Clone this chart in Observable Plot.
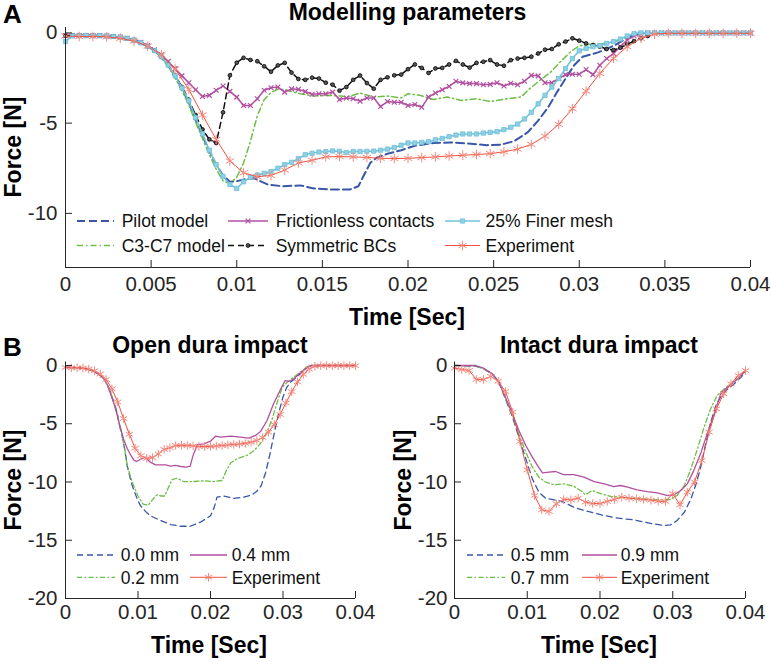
<!DOCTYPE html>
<html><head><meta charset="utf-8">
<script src="https://cdn.jsdelivr.net/npm/d3@7"></script>
<script src="https://cdn.jsdelivr.net/npm/@observablehq/plot@0.6"></script>
<style>
body{margin:0;background:#fff;}
#wrap{position:relative;width:771px;height:664px;overflow:hidden;background:#fff;}
</style></head><body><div id="wrap"></div>
<script>
// ---------- DATA (time in ms, force in N) ----------
// Panel A, Experiment: sampled every 0.8 ms (also used in "Open dura impact")
const expOpenF = [-0.17,-0.2,-0.2,-0.22,-0.3,-0.45,-0.73,-1.2,-2.0,-3.13,
  -4.55,-5.9,-7.1,-7.75,-7.97,-7.9,-7.6,-7.2,-7.06,-6.87,
  -6.85,-6.87,-6.9,-6.95,-6.96,-6.95,-6.91,-6.87,-6.82,-6.78,
  -6.74,-6.69,-6.59,-6.44,-6.18,-5.72,-5.07,-4.2,-3.22,-2.25,
  -1.41,-0.76,-0.3,-0.07,-0.02,-0.02,-0.02,-0.02,-0.02,-0.02,-0.02];
// Panel A, 25% Finer mesh: every 0.4 ms
const finerF = [-0.48,-0.17,-0.15,-0.15,-0.15,-0.15,-0.17,-0.2,-0.23,-0.3,
  -0.4,-0.55,-0.75,-0.98,-1.32,-1.78,-2.38,-3.05,-3.75,-4.7,
  -5.6,-6.5,-7.3,-7.95,-8.4,-8.62,-8.25,-8.0,-7.88,-7.78,
  -7.68,-7.5,-7.3,-7.17,-6.97,-6.75,-6.67,-6.6,-6.58,-6.54,
  -6.56,-6.63,-6.57,-6.57,-6.56,-6.55,-6.5,-6.44,-6.35,-6.22,
  -6.1,-6.1,-6.07,-6.03,-5.92,-5.85,-5.75,-5.66,-5.6,-5.6,
  -5.6,-5.55,-5.51,-5.47,-5.36,-5.23,-5.05,-4.77,-4.4,-3.93,
  -3.46,-3.0,-2.53,-1.97,-1.42,-0.99,-0.86,-0.76,-0.71,-0.58,
  -0.48,-0.34,-0.17,-0.04,0,0,0,0,0,0,
  0,0,0,0,0,0,0,0,0,0,0];
// Panel A, Frictionless contacts: every 0.4 ms
const fricF = [-0.15,-0.15,-0.15,-0.15,-0.15,-0.15,-0.17,-0.2,-0.23,-0.3,
  -0.4,-0.52,-0.7,-0.93,-1.22,-1.58,-1.98,-2.38,-2.76,-3.15,
  -3.52,-3.46,-3.18,-2.94,-3.24,-3.56,-4.02,-4.02,-3.65,-3.18,
  -3.04,-3.0,-3.28,-3.1,-3.13,-3.25,-3.4,-3.37,-3.37,-3.28,
  -3.69,-3.61,-3.65,-3.78,-3.61,-3.61,-4.08,-3.8,-3.84,-3.84,
  -4.02,-3.97,-4.12,-3.56,-3.33,-3.15,-2.96,-2.68,-2.77,-2.81,
  -2.81,-2.87,-2.85,-2.76,-2.94,-2.79,-2.87,-2.68,-2.35,-2.38,
  -2.76,-2.76,-2.53,-2.31,-2.29,-2.29,-2.03,-2.31,-1.79,-1.42,
  -1.14,-0.76,-0.39,-0.17,-0.06,0,0,0,0,0,
  0,0,0,0,0,0,0,0,0,0,0];
// Panel A, Symmetric BCs: every 0.4 ms, 0 – 34 ms
const symF = [-0.15,-0.15,-0.15,-0.15,-0.15,-0.15,-0.17,-0.2,-0.23,-0.3,
  -0.4,-0.55,-0.75,-0.98,-1.32,-1.78,-2.35,-3.0,-3.7,-4.55,
  -5.35,-5.9,-6.1,-4.4,-2.35,-1.65,-1.38,-1.5,-1.57,-1.85,
  -2.15,-1.8,-1.66,-2.2,-2.55,-2.6,-2.48,-2.53,-2.76,-2.87,
  -3.2,-3.0,-2.6,-2.36,-2.78,-3.09,-2.6,-2.46,-2.35,-2.31,
  -2.01,-1.75,-1.94,-2.22,-1.97,-1.94,-1.75,-1.55,-1.75,-1.92,
  -1.66,-1.6,-1.51,-1.75,-1.82,-1.51,-1.42,-1.38,-1.32,-1.14,
  -0.93,-0.89,-0.63,-0.48,-0.3,-0.43,-0.58,-0.67,-0.76,-0.89,
  -0.95,-0.82,-0.63,-0.45,-0.3,-0.17];
// Panel A, Pilot model [ms, N]
const pilot = [[0,-0.15],[2,-0.15],[2.8,-0.2],[3.6,-0.3],[4.4,-0.55],[5.2,-0.98],[5.6,-1.32],[6,-1.8],[6.4,-2.4],[6.8,-3.1],[7.2,-3.85],[7.6,-4.8],[8,-5.7],[8.4,-6.55],[8.8,-7.3],[9.2,-7.9],[9.6,-8.25],[10,-8.22],[10.5,-8.1],[11,-8.05],[11.8,-8.4],[12.7,-8.5],[13.7,-8.45],[14.5,-8.62],[15.6,-8.68],[16.6,-8.68],[17.1,-8.5],[17.4,-7.93],[17.8,-7.2],[18.2,-6.9],[18.8,-6.7],[19.6,-6.5],[20.4,-6.25],[21.5,-6.1],[22.5,-6.07],[23.5,-6.13],[24.6,-6.22],[25.4,-6.2],[26.2,-6.0],[27,-5.5],[27.6,-4.86],[28.2,-4.1],[28.7,-3.28],[29.2,-2.53],[29.7,-1.79],[30.2,-1.32],[30.7,-1.19],[31.1,-1.08],[31.6,-0.89],[32.1,-0.67],[32.6,-0.39],[33.2,-0.11],[33.6,0],[40,0]];
// Panel A, C3-C7 model [ms, N]
const c3c7 = [[0,-0.15],[2,-0.15],[2.8,-0.2],[3.6,-0.3],[4.4,-0.55],[5.2,-1.0],[5.6,-1.38],[6,-1.88],[6.4,-2.5],[6.8,-3.2],[7.2,-4.0],[7.6,-4.95],[8,-5.85],[8.4,-6.75],[8.8,-7.55],[9.2,-8.2],[9.6,-8.35],[10,-8.0],[10.4,-7.2],[10.8,-6.0],[11.2,-4.6],[11.6,-3.7],[12,-3.3],[12.4,-3.12],[12.8,-3.15],[13.2,-3.25],[13.7,-3.37],[14.5,-3.5],[15.3,-3.46],[16.1,-3.5],[16.45,-3.55],[17.2,-3.33],[18,-3.55],[18.8,-3.5],[19.6,-3.6],[20,-3.37],[20.7,-3.46],[21.5,-3.69],[22.3,-3.55],[23.1,-3.74],[24,-3.65],[24.8,-3.8],[25.8,-3.65],[26.6,-3.55],[27.1,-3.1],[27.7,-2.63],[28.3,-2.2],[28.9,-1.6],[29.5,-1.04],[30,-0.71],[30.7,-0.63],[31.4,-0.58],[32.2,-0.45],[32.8,-0.2],[33.4,-0.02],[40,0]];
// Panel B left, Open dura impact [ms, N]
const open00 = [[0,-0.15],[2,-0.2],[3,-0.3],[3.9,-0.5],[4.6,-0.75],[5.3,-1.14],[5.8,-1.7],[6.2,-2.3],[6.7,-3.2],[7.1,-4.0],[7.4,-5.0],[7.8,-6.0],[8.2,-7.3],[8.5,-8.6],[8.9,-9.6],[9.2,-10.3],[9.8,-11.3],[10.3,-12.0],[11,-12.5],[11.7,-12.9],[13.1,-13.3],[14.5,-13.65],[15.9,-13.8],[17.2,-13.8],[18.6,-13.45],[20,-12.9],[20.5,-12.2],[20.9,-11.3],[21.8,-11.2],[23.2,-11.4],[24.6,-11.3],[25.7,-11.1],[26.4,-10.8],[27,-10.3],[27.6,-9.2],[28.2,-7.6],[28.8,-5.8],[29.4,-4.1],[30,-2.7],[30.5,-1.9],[31,-1.45],[31.5,-1.2],[32.4,-0.7],[33.3,-0.15],[34,0],[40,0]];
const open02 = [[0,-0.15],[2,-0.2],[3,-0.3],[3.9,-0.5],[4.6,-0.75],[5.3,-1.14],[5.8,-1.7],[6.2,-2.3],[6.7,-3.2],[7.1,-4.0],[7.4,-5.0],[7.8,-6.0],[8.2,-7.3],[8.5,-8.5],[8.9,-9.4],[9.2,-10.0],[10,-11.2],[10.7,-11.9],[11.4,-12.0],[12.1,-11.45],[12.6,-11.1],[13.1,-11.2],[13.7,-11.2],[14.1,-10.6],[14.7,-9.8],[15.4,-9.67],[16.3,-9.96],[17.7,-9.96],[19.1,-9.9],[20.5,-9.96],[21.6,-9.87],[22.2,-9.0],[22.8,-8.35],[23.7,-8.0],[25.1,-7.7],[26,-7.3],[26.9,-6.7],[27.8,-5.7],[28.5,-4.6],[29.2,-3.15],[29.9,-1.86],[30.6,-1.43],[31.5,-1.0],[32.4,-0.57],[33.3,-0.1],[33.8,0],[40,0]];
const open04 = [[0,-0.15],[2,-0.2],[3,-0.3],[3.9,-0.5],[4.6,-0.75],[5.3,-1.14],[5.8,-1.7],[6.2,-2.4],[6.7,-3.3],[7.1,-4.2],[7.6,-5.4],[8,-6.3],[8.5,-7.1],[9,-7.7],[9.4,-8.1],[9.8,-8.24],[10.3,-8.07],[11,-7.87],[11.7,-8.3],[12.4,-8.53],[13.1,-8.53],[13.8,-8.53],[14.5,-8.64],[15.2,-8.58],[15.9,-8.67],[16.7,-8.73],[17.2,-8.64],[17.6,-7.7],[18.2,-6.8],[19.1,-6.72],[20,-6.5],[20.7,-6.07],[21.4,-6.15],[22.8,-6.07],[24.1,-6.15],[25.3,-6.24],[26.2,-6.0],[26.9,-5.67],[27.8,-4.72],[28.7,-3.29],[29.7,-2.0],[30.3,-1.29],[30.8,-1.37],[31.5,-1.14],[32.4,-0.63],[33.6,-0.06],[34.3,0],[40,0]];
// Panel B right, Intact dura impact [ms, N]
const int05 = [[0,0],[2.9,-0.06],[4,-0.29],[5.2,-0.72],[6.1,-1.43],[7,-2.86],[7.9,-4.3],[8.85,-6.15],[9.8,-8.0],[10.7,-9.73],[11.6,-10.87],[12.5,-11.39],[13.7,-11.53],[15,-11.73],[16.4,-12.16],[17.8,-12.45],[19.2,-12.65],[20.6,-12.88],[21.9,-13.05],[23.3,-13.16],[24.7,-13.25],[26.1,-13.45],[27.4,-13.6],[28.8,-13.73],[29.7,-13.68],[30.6,-13.3],[31.6,-12.6],[32.5,-11.45],[33.2,-10.2],[33.9,-8.6],[34.5,-6.8],[35.2,-4.9],[36,-3.3],[36.8,-2.5],[37.5,-2.05],[38.4,-1.6],[39.4,-1.0],[40,-0.55]];
const int07 = [[0,0],[2.9,-0.05],[4,-0.25],[5.2,-0.72],[6.1,-1.43],[7,-2.8],[7.9,-4.15],[8.85,-5.87],[9.8,-7.44],[10.7,-8.73],[11.6,-9.59],[12.5,-10.0],[13.7,-10.24],[15,-10.16],[16.4,-10.36],[17.6,-10.87],[18,-11.1],[18.9,-10.73],[20.1,-11.0],[21.5,-11.24],[22.8,-11.3],[24.2,-11.39],[25.6,-11.44],[27,-11.5],[28.3,-11.53],[29.7,-11.5],[30.6,-11.16],[31.6,-10.3],[32.5,-8.87],[33.4,-7.15],[34.3,-5.3],[35.2,-3.72],[36.1,-2.58],[37.1,-2.0],[38,-1.57],[39.1,-1.0],[40,-0.52]];
const int09 = [[0,0],[2.9,0],[4,-0.23],[5.2,-0.72],[6.1,-1.43],[7,-2.72],[7.9,-4.06],[8.85,-5.58],[9.8,-6.87],[10.7,-7.87],[11.4,-8.58],[12.1,-9.21],[13,-9.16],[13.9,-9.1],[15,-9.36],[16.4,-9.36],[17.8,-9.59],[19.2,-9.96],[20.6,-10.16],[21.9,-10.39],[22.8,-10.3],[23.8,-10.44],[25.1,-10.67],[26.5,-10.82],[27.9,-10.93],[29.3,-11.16],[30.2,-11.1],[31.1,-10.73],[32,-10.16],[32.9,-9.0],[33.9,-7.44],[34.8,-5.72],[35.7,-4.15],[36.6,-2.43],[37.5,-1.86],[38.4,-1.43],[39.4,-0.86],[40,-0.43]];
// Panel B right, Experiment: every 1 ms
const expIntactF = [-0.23,-0.34,-0.43,-1.2,-1.2,-0.94,-1.34,-2.23,-4.0,-6.52,
  -8.96,-11.16,-12.39,-12.53,-11.87,-11.5,-11.53,-11.39,-11.73,-11.85,
  -11.85,-11.67,-11.5,-11.3,-11.39,-11.44,-11.5,-11.56,-11.65,-11.67,
  -11.0,-11.96,-10.87,-10.0,-8.15,-5.72,-3.72,-2.43,-1.57,-0.86,-0.43];

const xticksA = [0,0.005,0.01,0.015,0.02,0.025,0.03,0.035,0.04];
const yticksA = [-10,-5,0];
const xticksB = [0,0.01,0.02,0.03,0.04];
const yticksB = [-20,-15,-10,-5,0];

// ---------- helpers ----------
const seq = (vals, stepMs) => vals.map((F, i) => ({t: i * stepMs / 1000, F}));
const pairs = arr => arr.map(([t, F]) => ({t: t / 1000, F}));
const FONT = '"Liberation Sans", Arial, Helvetica, sans-serif';
const AX = "#262626";
const C = {blue:"#3a56a8", green:"#6dbe45", mag:"#b24fa0", black:"#111", cyan:"#72c3dc", red:"#f0503e", redM:"#f4887d"};
const fmtX = d => d === 0 ? "0" : String(+d.toFixed(3));
const fmtY = d => String(d);

function series(data, s) {
  const m = [Plot.line(data, {x: "t", y: "F", stroke: s.color, strokeWidth: s.w, strokeDasharray: s.dash || null})];
  if (s.sym) m.push(Plot.dot(data, {x: "t", y: "F", symbol: s.sym, r: s.r, stroke: s.ms, fill: s.mf || "none", strokeWidth: s.mw || 1}));
  return m;
}

const ST = {
  pilot: {color: C.blue, w: 2, dash: "8,4"},
  c3: {color: C.green, w: 1.5, dash: "6,3,1.5,3"},
  fric: {color: C.mag, w: 1.5, sym: "times", r: 2.3, ms: C.mag, mw: 1.2},
  sym: {color: C.black, w: 1.5, dash: "6,4", sym: "circle", r: 1.9, ms: "#000", mf: "#555", mw: 0.8},
  fine: {color: C.cyan, w: 1.6, sym: "square", r: 2.4, ms: "#6cbfd8", mf: "#8fd0e5", mw: 0.8},
  exp: {color: C.red, w: 1, sym: "asterisk", r: 4.5, ms: C.redM, mw: 1},
  b0: {color: C.blue, w: 1.3, dash: "6,4"},
  b1: {color: C.green, w: 1.3, dash: "5,2.5,1.5,2.5"},
  b2: {color: C.mag, w: 1.3},
  bexp: {color: C.red, w: 1, sym: "asterisk", r: 4, ms: C.redM, mw: 1}
};

function panel(cfg) {
  const {width, height, ml, mr, mt, mb, ydom, xticks, yticks, xdy, ydx, marks} = cfg;
  const fw = width - ml - mr, fh = height - mt - mb;
  const svg = Plot.plot({
    width, height, marginLeft: ml, marginRight: mr, marginTop: mt, marginBottom: mb,
    x: {domain: [0, 0.04], axis: null},
    y: {domain: ydom, axis: null},
    style: {background: "transparent", overflow: "visible", fontFamily: FONT, fontSize: "20px", color: AX},
    marks: [
      ...marks,
      Plot.ruleX([0], {stroke: AX, strokeWidth: 1}),
      Plot.ruleY([ydom[0]], {stroke: AX, strokeWidth: 1}),
      Plot.tickX(xticks, {x: d => d, insetTop: fh - 7, stroke: AX}),
      Plot.tickY(yticks, {y: d => d, insetRight: fw - 7, stroke: AX}),
      Plot.text(xticks, {x: d => d, frameAnchor: "bottom", dy: xdy, text: fmtX, fontSize: 20.5, fill: AX}),
      Plot.text(yticks, {y: d => d, frameAnchor: "left", dx: ydx, textAnchor: "end", text: fmtY, fontSize: 20.5, fill: AX})
    ]
  });
  svg.style.position = "absolute";
  svg.style.left = cfg.left + "px";
  svg.style.top = cfg.top + "px";
  return svg;
}

const wrap = document.getElementById("wrap");

wrap.appendChild(panel({
  left: 0, top: 0, width: 771, height: 330, ml: 65, mr: 21, mt: 27, mb: 63,
  ydom: [-13, 0.3], xticks: xticksA, yticks: yticksA, xdy: 23.6, ydx: -8,
  marks: [
    ...series(pairs(pilot), ST.pilot),
    ...series(pairs(c3c7), ST.c3),
    ...series(seq(fricF, 0.4), ST.fric),
    ...series(seq(symF, 0.4), ST.sym),
    ...series(seq(finerF, 0.4), ST.fine),
    ...series(seq(expOpenF, 0.8), ST.exp)
  ]
}));

wrap.appendChild(panel({
  left: 0, top: 330, width: 390, height: 334, ml: 65, mr: 35, mt: 31.5, mb: 66,
  ydom: [-20, 0.3], xticks: xticksB, yticks: yticksB, xdy: 20.6, ydx: -8,
  marks: [
    ...series(pairs(open00), ST.b0),
    ...series(pairs(open02), ST.b1),
    ...series(pairs(open04), ST.b2),
    ...series(seq(expOpenF, 0.8), ST.bexp)
  ]
}));

wrap.appendChild(panel({
  left: 390, top: 330, width: 381, height: 334, ml: 64, mr: 26, mt: 31.5, mb: 66,
  ydom: [-20, 0.3], xticks: xticksB, yticks: yticksB, xdy: 20.6, ydx: -7,
  marks: [
    ...series(pairs(int05), ST.b0),
    ...series(pairs(int07), ST.b1),
    ...series(pairs(int09), ST.b2),
    ...series(seq(expIntactF, 1), ST.bexp)
  ]
}));

// ---------- overlay: titles, labels, legends ----------
const ov = d3.create("svg").attr("width", 771).attr("height", 664)
  .style("position", "absolute").style("left", "0px").style("top", "0px")
  .style("font-family", FONT);

function txt(x, y, s, o = {}) {
  const t = ov.append("text").attr("x", x).attr("y", y).text(s)
    .attr("font-size", o.size || 23).attr("font-weight", o.weight || "bold")
    .attr("text-anchor", o.anchor || "middle").attr("fill", o.fill || "#000");
  if (o.rotate) t.attr("transform", `rotate(${o.rotate},${x},${y})`);
  return t;
}
txt(3, 23, "A", {size: 26, anchor: "start"});
txt(407.5, 20, "Modelling parameters");
txt(407, 325, "Time [Sec]");
txt(21, 147, "Force [N]", {rotate: -90});
txt(3, 356, "B", {size: 26, anchor: "start"});
txt(210, 352.5, "Open dura impact");
txt(599, 352.5, "Intact dura impact");
txt(209, 653, "Time [Sec]");
txt(599, 653, "Time [Sec]");
txt(21, 480, "Force [N]", {rotate: -90});
txt(411, 480, "Force [N]", {rotate: -90});

const symMap = {times: d3.symbolTimes, circle: d3.symbolCircle, square: d3.symbolSquare, asterisk: d3.symbolAsterisk};
function legendItem(x1, x2, y, tx, s, label) {
  ov.append("line").attr("x1", x1).attr("x2", x2).attr("y1", y).attr("y2", y)
    .attr("stroke", s.color).attr("stroke-width", s.w).attr("stroke-dasharray", s.dash || null);
  if (s.sym) {
    ov.append("path").attr("d", d3.symbol(symMap[s.sym], s.r * s.r * Math.PI)())
      .attr("transform", `translate(${(x1 + x2) / 2},${y})`)
      .attr("stroke", s.ms).attr("fill", s.mf || "none").attr("stroke-width", s.mw || 1);
  }
  txt(tx, y + 6.3, label, {size: 17.5, weight: "normal", anchor: "start", fill: "#111"});
}
legendItem(77, 114, 221, 121.7, ST.pilot, "Pilot model");
legendItem(77, 114, 245.5, 121.7, ST.c3, "C3-C7 model");
legendItem(228, 268, 221, 275.7, ST.fric, "Frictionless contacts");
legendItem(228, 268, 245.5, 275.7, ST.sym, "Symmetric BCs");
legendItem(445, 480, 221, 485.5, ST.fine, "25% Finer mesh");
legendItem(445, 480, 245.5, 485.5, ST.exp, "Experiment");

legendItem(77, 115, 555, 120.7, ST.b0, "0.0 mm");
legendItem(77, 115, 577.3, 120.7, ST.b1, "0.2 mm");
legendItem(190, 227, 555, 231.7, ST.b2, "0.4 mm");
legendItem(190, 227, 577.3, 231.7, ST.bexp, "Experiment");

legendItem(467, 505, 555, 510.7, ST.b0, "0.5 mm");
legendItem(467, 505, 577.3, 510.7, ST.b1, "0.7 mm");
legendItem(582, 617, 555, 620.7, ST.b2, "0.9 mm");
legendItem(582, 617, 577.3, 620.7, ST.bexp, "Experiment");

wrap.appendChild(ov.node());
</script></body></html>
